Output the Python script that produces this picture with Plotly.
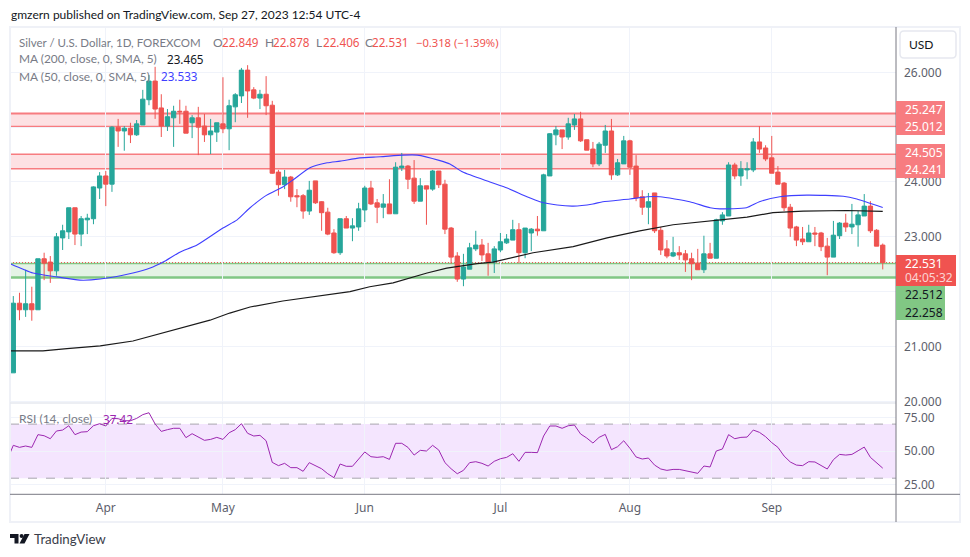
import plotly.graph_objects as go

# Silver / USD daily candles
opens = [20.52,21.79,21.67,21.78,21.67,22.60,22.54,22.38,22.98,23.09,
         23.53,23.05,23.31,23.33,23.89,24.11,23.96,25.00,24.93,24.98,
         24.86,25.04,25.50,25.84,25.35,25.02,25.17,25.29,25.29,25.08,
         25.17,25.02,24.86,24.91,25.06,24.97,25.37,25.57,26.04,25.68,
         25.53,25.60,25.40,24.18,23.95,24.09,23.75,23.75,23.47,24.02,
         23.64,23.45,23.07,22.71,23.33,23.16,23.18,23.49,23.89,23.62,
         23.54,23.60,23.42,24.26,24.29,24.07,23.65,23.93,23.87,24.20,
         23.96,23.16,22.65,22.23,22.41,22.78,22.85,22.69,22.54,22.76,
         22.89,22.94,23.13,22.71,23.07,23.14,23.11,24.11,24.86,24.95,
         24.82,25.04,25.15,24.77,24.60,24.33,24.67,24.93,24.13,24.33,
         24.75,24.29,23.73,23.54,23.80,23.12,22.78,22.65,22.71,22.69,
         22.60,22.52,22.40,22.69,22.61,23.29,23.38,24.31,24.11,24.22,
         24.22,24.73,24.62,24.44,24.18,23.98,23.54,23.18,22.96,22.91,
         23.07,23.07,22.83,22.63,23.02,23.25,23.18,23.22,23.38,23.56,
         23.12,22.849]
highs = [21.92,21.98,22.40,22.09,22.60,22.71,22.65,23.07,23.22,23.53,
         23.53,23.38,23.42,23.92,24.18,24.20,25.02,25.15,25.02,25.08,
         25.13,25.68,25.95,26.10,25.60,25.33,25.39,25.50,25.39,25.22,
         25.37,25.24,25.15,25.08,25.91,25.50,25.62,26.08,26.13,25.73,
         25.68,25.93,25.48,24.22,24.22,24.11,23.87,23.78,24.02,24.02,
         23.65,23.53,23.14,23.33,23.38,23.34,23.62,23.93,24.02,23.69,
         23.78,24.05,24.36,24.53,24.31,24.40,24.07,23.93,24.22,24.20,
         24.04,23.18,22.72,22.69,22.89,23.11,22.96,22.89,22.83,23.07,
         23.05,23.31,23.25,23.16,23.16,23.38,24.15,24.89,25.02,24.95,
         25.17,25.24,25.28,24.77,24.73,24.73,25.04,25.15,24.42,24.84,
         24.77,24.49,23.85,23.80,23.80,23.18,22.94,23.00,22.83,22.76,
         22.71,22.78,23.02,22.89,23.33,23.45,24.36,24.35,24.38,24.36,
         24.80,25.02,24.67,24.84,24.29,24.00,23.60,23.20,23.18,23.22,
         23.18,23.09,22.98,23.29,23.27,23.42,23.60,23.47,23.78,23.65,
         23.14,22.878]
lows = [20.52,21.48,21.54,21.47,21.67,22.21,22.16,22.29,22.76,22.96,
        22.85,22.83,23.05,23.23,23.69,23.56,23.82,24.64,24.57,24.71,
        24.84,25.04,25.40,25.15,24.82,24.93,24.64,25.06,24.89,24.80,
        24.49,24.73,24.51,24.73,24.89,24.58,25.09,25.44,25.17,25.51,
        25.33,25.22,24.15,23.75,23.87,23.64,23.54,23.33,23.40,23.60,
        23.11,23.03,22.69,22.67,23.16,22.92,23.11,23.27,23.58,23.25,
        23.34,23.42,23.42,24.20,23.87,23.60,23.65,23.22,23.84,23.89,
        23.05,22.51,22.18,22.10,22.41,22.74,22.56,22.29,22.34,22.72,
        22.87,22.94,22.52,22.61,22.74,23.02,23.11,24.11,24.67,24.60,
        24.77,24.95,24.73,24.58,24.27,24.29,24.53,24.04,24.11,24.33,
        24.13,23.65,23.40,23.23,23.07,22.67,22.61,22.63,22.58,22.36,
        22.21,22.40,22.34,22.61,22.61,23.22,23.38,24.05,23.93,24.05,
        24.18,24.53,24.38,24.16,23.96,23.47,23.00,22.83,22.85,22.91,
        22.83,22.74,22.30,22.63,22.96,23.09,23.05,22.82,23.38,23.07,
        22.83,22.406]
closes = [21.79,21.67,21.78,21.67,22.60,22.52,22.38,23.00,23.11,23.53,
          23.05,23.33,23.34,23.91,24.11,23.96,25.00,24.93,24.98,24.86,
          25.06,25.51,25.84,25.33,25.02,25.19,25.29,25.28,24.89,25.17,
          25.00,24.86,24.93,25.08,24.97,25.39,25.59,26.04,25.66,25.53,
          25.60,25.39,24.16,23.95,24.09,23.73,23.73,23.47,23.85,23.62,
          23.44,23.05,22.71,23.33,23.16,23.20,23.51,23.89,23.60,23.54,
          23.60,23.42,24.27,24.29,24.05,23.65,23.93,23.87,24.20,23.95,
          23.14,22.63,22.23,22.45,22.80,22.85,22.67,22.54,22.78,22.91,
          22.96,23.13,22.71,23.16,23.14,23.11,24.13,24.88,24.95,24.82,
          25.06,25.15,24.75,24.58,24.33,24.69,24.93,24.13,24.35,24.75,
          24.27,23.71,23.54,23.64,23.11,22.76,22.65,22.71,22.67,22.58,
          22.51,22.40,22.69,22.61,23.31,23.40,24.31,24.11,24.24,24.24,
          24.73,24.60,24.42,24.16,23.96,23.53,23.16,22.94,22.91,23.07,
          23.05,22.82,22.63,23.03,23.25,23.18,23.23,23.40,23.56,23.11,
          22.83,22.531]

# Moving averages, read at the bars where the curve could be read
ma50_bars = [-0.5,3.2,7.1,10.8,14.1,19.4,22.2,24.3,27,29.8,34,36.3,38.4,41.1,43.7,45.4,48.1,
             50.9,53,56.2,59.5,63.2,65.5,69.2,70.8,72.9,77.3,80.1,83.3,85.4,88.2,90.8,94,
             95.6,100,102.8,104.9,109.7,113,114.6,118.9,121,124.3,128.7,134.6,136.8,141]
ma50_vals = [22.51,22.34,22.27,22.21,22.23,22.34,22.43,22.54,22.72,22.85,23.16,23.31,23.53,23.76,23.91,24.04,24.26,
             24.35,24.38,24.44,24.46,24.49,24.49,24.39,24.33,24.18,24.00,23.89,23.73,23.64,23.58,23.56,23.60,
             23.64,23.69,23.73,23.73,23.64,23.53,23.51,23.53,23.64,23.73,23.76,23.74,23.69,23.533]
ma200_bars = [-0.5,4.8,8.7,14.1,19.4,23.8,27.8,31.9,35.1,38.4,43.7,49.2,54.6,57.8,61.6,67.1,70.3,
              75.2,77.8,84.3,90.8,96.3,101.6,107,115.1,119,123.2,128.1,135.2,141]
ma200_vals = [20.92,20.92,20.96,21.01,21.10,21.23,21.36,21.48,21.61,21.72,21.83,21.92,22.00,22.09,22.16,22.34,22.43,
              22.51,22.54,22.71,22.82,22.98,23.11,23.22,23.31,23.36,23.44,23.47,23.48,23.465]

# RSI, one value per bar, first one is just left of the pane
rsi_vals = [43.4,54.3,52.8,53.8,52.8,62.2,61.4,59.2,64.9,65.6,68.8,62.2,64.1,64.4,68.8,70.3,68.6,74.2,74.0,72.5,72.5,
            74.2,77.0,78.4,70.1,64.6,65.9,66.9,66.9,60.0,62.9,60.4,58.0,58.7,60.2,58.7,63.6,65.9,70.3,63.2,61.2,
            61.7,57.7,41.7,39.3,41.0,37.8,37.8,35.1,41.5,39.3,37.0,33.3,30.4,40.5,38.8,38.8,43.9,49.4,45.9,45.4,
            45.9,43.9,55.8,55.8,52.8,47.1,50.6,50.1,54.3,50.8,41.5,37.0,33.3,35.8,41.5,42.2,41.0,39.0,42.5,44.4,
            45.4,48.1,42.5,49.1,49.1,48.9,61.2,68.6,68.6,66.9,68.8,69.3,62.7,59.7,56.0,60.2,62.4,51.1,53.3,57.7,
            52.1,45.7,44.2,44.9,39.7,36.8,35.8,36.5,36.5,35.5,34.8,33.6,39.0,38.3,50.1,51.6,62.2,59.2,60.2,60.4,
            65.6,63.9,60.7,56.3,52.8,46.4,42.0,39.7,39.3,42.2,42.0,39.5,36.8,43.7,47.6,47.1,47.6,50.3,53.0,45.4,
            41.5,37.42]

month_bars = [15, 34, 57, 79, 100, 123]
month_labels = ['Apr', 'May', 'Jun', 'Jul', 'Aug', 'Sep']
price_ticks = [20, 21, 22, 23, 24, 25, 26]
# 22 and 25 sit behind the price tags in the original, only their grid lines show
price_labels = ['20.000', '21.000', '', '23.000', '24.000', '', '26.000']
rsi_ticks = [25, 50, 75]
rsi_labels = ['25.00', '50.00', '75.00']
res_zones = [(25.247, 25.012), (24.505, 24.241)]
sup_zone = (22.512, 22.258)
last_price = 22.531

W, H = 970, 557
FONT = 'Lato'
NUMFONT = 'Noto Sans'
GREY = '#787b86'
GRID = '#f0f3fa'
RED = '#ef5350'
GREEN = '#26a69a'
PINK = '#f77c80'
LIGHTGREEN = '#81c784'
PURPLE = '#9c27b0'


def px(x):
    return x / W


def py(y):
    return 1 - y / H


bars = list(range(len(opens)))
xrange = [-0.535, 143.15]

fig = go.Figure()
fig.add_trace(go.Candlestick(x=bars, open=opens, high=highs, low=lows, close=closes,
                             increasing=dict(line=dict(color=GREEN, width=1), fillcolor=GREEN),
                             decreasing=dict(line=dict(color=RED, width=1), fillcolor=RED),
                             whiskerwidth=0, xaxis='x', yaxis='y'))
fig.add_trace(go.Scatter(x=ma200_bars, y=ma200_vals, mode='lines', xaxis='x', yaxis='y',
                         line=dict(color='#1a1a1a', width=1.2)))
fig.add_trace(go.Scatter(x=ma50_bars, y=ma50_vals, mode='lines', xaxis='x', yaxis='y',
                         line=dict(color='#3f3fff', width=1.1, shape='spline', smoothing=0.6)))
fig.add_trace(go.Scatter(x=[-1] + bars, y=rsi_vals, mode='lines', xaxis='x2', yaxis='y2',
                         line=dict(color=PURPLE, width=1)))

shapes = []
# zones
for top, bottom in res_zones:
    shapes.append(dict(type='rect', xref='x', yref='y', x0=xrange[0], x1=xrange[1], y0=bottom, y1=top,
                       fillcolor='rgba(242,54,69,0.15)', line_width=0, layer='below'))
    shapes.append(dict(type='line', xref='x', yref='y', x0=xrange[0], x1=xrange[1], y0=top, y1=top,
                       line=dict(color=PINK, width=2 if top == res_zones[0][0] else 1.5), layer='below'))
    shapes.append(dict(type='line', xref='x', yref='y', x0=xrange[0], x1=xrange[1], y0=bottom, y1=bottom,
                       line=dict(color=PINK, width=1.5), layer='below'))
shapes.append(dict(type='rect', xref='x', yref='y', x0=xrange[0], x1=xrange[1], y0=sup_zone[1], y1=sup_zone[0],
                   fillcolor='rgba(76,175,80,0.15)', line_width=0, layer='below'))
shapes.append(dict(type='line', xref='x', yref='y', x0=xrange[0], x1=xrange[1], y0=sup_zone[0], y1=sup_zone[0],
                   line=dict(color=LIGHTGREEN, width=1.5), layer='below'))
shapes.append(dict(type='line', xref='x', yref='y', x0=xrange[0], x1=xrange[1], y0=sup_zone[1], y1=sup_zone[1],
                   line=dict(color=LIGHTGREEN, width=2.5), layer='below'))
shapes.append(dict(type='line', xref='x', yref='y', x0=xrange[0], x1=xrange[1], y0=last_price, y1=last_price,
                   line=dict(color=RED, width=1, dash='1px,2px'), layer='below'))
# RSI band
shapes.append(dict(type='rect', xref='x2', yref='y2', x0=xrange[0], x1=xrange[1], y0=30, y1=70,
                   fillcolor='#f4e5fe', line_width=0, layer='below'))
for level in [30, 70]:
    shapes.append(dict(type='line', xref='x2', yref='y2', x0=xrange[0], x1=xrange[1], y0=level, y1=level,
                       line=dict(color='#a8a6ae', width=1, dash='dash'), layer='below'))


def pline(x0, y0, x1, y1, color, width):
    shapes.append(dict(type='line', xref='paper', yref='paper', x0=px(x0), x1=px(x1), y0=py(y0), y1=py(y1),
                       line=dict(color=color, width=width)))


def pbox(x0, y0, x1, y1, color):
    shapes.append(dict(type='rect', xref='paper', yref='paper', x0=px(x0), x1=px(x1), y0=py(y0), y1=py(y1),
                       fillcolor=color, line_width=0))


# frame and separators
shapes.append(dict(type='rect', xref='paper', yref='paper', x0=px(10), x1=px(960), y0=py(27), y1=py(522),
                   line=dict(color='#eff1f7', width=2)))
pline(10, 403, 896, 403, '#e6e8ef', 1.5)
pline(10, 494.3, 960, 494.3, '#787882', 1)
pline(896, 27, 896, 522, '#787882', 1)

# price tags on the axis
pbox(896, 101, 945, 135, PINK)
pbox(896, 144, 945, 178, PINK)
pbox(896, 255, 956, 286, '#f05350')
pbox(896, 286, 945, 320, LIGHTGREEN)

# USD button
shapes.append(dict(type='path', xref='paper', yref='paper', line=dict(color='#e6e8ef', width=1.5), path=(
    f'M {px(904)} {py(31)} L {px(952)} {py(31)} Q {px(956)} {py(31)} {px(956)} {py(35)} '
    f'L {px(956)} {py(54)} Q {px(956)} {py(58)} {px(952)} {py(58)} L {px(904)} {py(58)} '
    f'Q {px(900)} {py(58)} {px(900)} {py(54)} L {px(900)} {py(35)} Q {px(900)} {py(31)} {px(904)} {py(31)} Z')))

# TradingView logo
shapes.append(dict(type='path', xref='paper', yref='paper', fillcolor='#131722', line_width=0, path=(
    f'M {px(10)} {py(534)} L {px(18.5)} {py(534)} L {px(18.5)} {py(543.5)} L {px(14.5)} {py(543.5)} '
    f'L {px(14.5)} {py(538)} L {px(10)} {py(538)} Z')))
shapes.append(dict(type='circle', xref='paper', yref='paper', x0=px(19.6), x1=px(23.6), y0=py(534), y1=py(538),
                   fillcolor='#131722', line_width=0))
shapes.append(dict(type='path', xref='paper', yref='paper', fillcolor='#131722', line_width=0, path=(
    f'M {px(24.5)} {py(534)} L {px(29.5)} {py(534)} L {px(24.5)} {py(543.5)} L {px(19.5)} {py(543.5)} Z')))

notes = []


def text(x, y, s, color=GREY, size=12, anchor='left', family=FONT):
    notes.append(dict(xref='paper', yref='paper', x=px(x), y=py(y), text=s, showarrow=False,
                      xanchor=anchor, yanchor='middle', borderpad=0,
                      font=dict(family=family, size=size, color=color)))


def num(x, y, s, color=RED, size=11.7):
    text(x, y, s, color, size, family=NUMFONT)


text(10, 14.5, 'gmzern published on TradingView.com, Sep 27, 2023 12:54 UTC-4', '#131722', 12)
text(18, 42, 'Silver / U.S. Dollar, 1D, FOREXCOM', size=11.5)
text(212, 42, 'O')
num(221, 42, '22.849')
text(264, 42, 'H')
num(272, 42, '22.878')
text(315, 42, 'L')
num(322, 42, '22.406')
text(364, 42, 'C')
num(371, 42, '22.531')
num(415, 42, '−0.318 (−1.39%)', size=11.2)
text(18, 59, 'MA (200, close, 0, SMA, 5)', size=11.9)
num(166, 59, '23.465', '#131722')
text(18, 76, 'MA (50, close, 0, SMA, 5)', size=11.9)
num(160, 76, '23.533', '#3f3fff')
text(18, 418.5, 'RSI (14, close)')
num(102, 418.5, '37.42', PURPLE)
text(921, 44.5, 'USD', '#131722', 12, 'center')
num(904, 109.5, '25.247', 'white', 12)
num(904, 126.5, '25.012', 'white', 12)
num(904, 152.5, '24.505', 'white', 12)
num(904, 169.5, '24.241', 'white', 12)
num(904, 263, '22.531', 'white', 12)
num(904, 277.5, '04:05:32', 'rgba(255,255,255,0.75)', 12)
num(904, 294.5, '22.512', '#131722', 12)
num(904, 312, '22.258', '#131722', 12)
text(33, 539, 'TradingView', '#3a3e4a', 13.3)

axis_font = dict(family=NUMFONT, size=12, color='#5d606b')
fig.update_layout(
    width=W, height=H, margin=dict(l=0, r=0, t=0, b=0, autoexpand=False),
    paper_bgcolor='white', plot_bgcolor='white', showlegend=False, hovermode=False,
    boxgap=0.3, boxgroupgap=0,
    shapes=shapes, annotations=notes,
    xaxis=dict(domain=[px(10), px(896)], range=xrange, anchor='y', tickvals=month_bars, ticktext=month_labels,
               showticklabels=False, showgrid=True, gridcolor=GRID, gridwidth=1, zeroline=False,
               rangeslider=dict(visible=False), ticks=''),
    yaxis=dict(domain=[py(403), py(27)], range=[19.97, 26.826], side='right', tickvals=price_ticks,
               ticktext=price_labels, tickfont=axis_font, showgrid=True, gridcolor=GRID, zeroline=False,
               ticks='', ticklabelstandoff=7),
    xaxis2=dict(domain=[px(10), px(896)], range=xrange, anchor='y2', tickvals=month_bars, ticktext=month_labels,
                tickfont=axis_font, showgrid=True, gridcolor=GRID, zeroline=False, ticks='', ticklabelstandoff=5),
    yaxis2=dict(domain=[py(494.3), py(403)], range=[18.1, 85.6], side='right', anchor='x2', tickvals=rsi_ticks,
                ticktext=rsi_labels, tickfont=axis_font, showgrid=True, gridcolor=GRID, zeroline=False,
                ticks='', ticklabelstandoff=7),
)

fig.write_html('out.html', config={'displayModeBar': False},
               post_script="document.body.style.margin='0';document.body.style.overflow='hidden';")
